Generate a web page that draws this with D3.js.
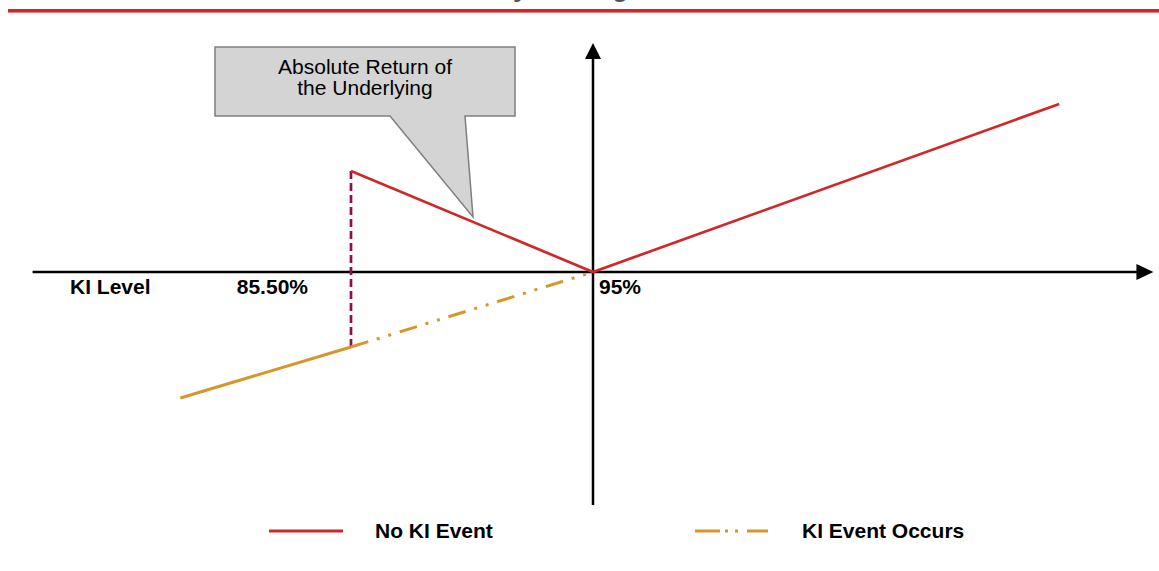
<!DOCTYPE html>
<html>
<head>
<meta charset="utf-8">
<script src="https://cdn.jsdelivr.net/npm/d3@7"></script>
<style>
  html, body { margin: 0; padding: 0; background: #fff; }
  svg { display: block; font-family: "Liberation Sans", Arial, sans-serif; }
</style>
</head>
<body>
<svg id="chart" width="1159" height="571"></svg>
<script>
// ---- Data (underlying level in %, payoff in schematic return units) ----
const titleText = "Payoff Diagram";
const xAxisExtent = [73, 117];          // underlying level range of the x axis
const yAxisExtent = [-23.3, 22.9];      // payoff range of the y axis
const strikeLevel = 95;                 // label "95%"
const kiLevel = 85.5;                   // label "85.50%"
const noKiLevels = [85.5, 95, 113.3];
const noKiValues = [10.1, 0, 16.8];
const kiSolidLevels = [78.8, 85.5];
const kiSolidValues = [-12.6, -7.5];
const kiDashLevels = [85.5, 95];
const kiDashValues = [-7.5, 0];
const tickLabels = ["KI Level", "85.50%", "95%"];
const calloutLines = ["Absolute Return of", "the Underlying"];
const legendLabels = ["No KI Event", "KI Event Occurs"];

// ---- Styles ----
const RED = "#d0282a", ORANGE = "#d6972a", PURPLE = "#8a1050";

const svg = d3.select("#chart");
const x = d3.scaleLinear().domain([95 - 9.5, 95]).range([351, 593]);
const y = d3.scaleLinear().domain([0, 10]).range([272, 172]);

// Title (cut off at the top, as in the reference) and red rule
svg.append("text").attr("x", 579).attr("y", -4).attr("text-anchor", "middle")
  .attr("font-size", 27).attr("font-weight", "bold").attr("fill", "#555")
  .text(titleText);
svg.append("rect").attr("x", 8).attr("y", 9).attr("width", 1151).attr("height", 3.6).attr("fill", RED);

// Axes
const x0 = x(xAxisExtent[0]), x1 = x(xAxisExtent[1]);
const yTop = y(yAxisExtent[1]), yBot = y(yAxisExtent[0]);
const ox = x(strikeLevel), oy = y(0);
svg.append("line").attr("x1", x0).attr("x2", x1 - 12).attr("y1", oy).attr("y2", oy)
  .attr("stroke", "#000").attr("stroke-width", 2.5);
svg.append("path").attr("d", `M${x1},${oy} L${x1 - 17},${oy - 8} L${x1 - 17},${oy + 8} Z`).attr("fill", "#000");
svg.append("line").attr("x1", ox).attr("x2", ox).attr("y1", yTop + 12).attr("y2", yBot)
  .attr("stroke", "#000").attr("stroke-width", 2.5);
svg.append("path").attr("d", `M${ox},${yTop} L${ox - 8},${yTop + 16} L${ox + 8},${yTop + 16} Z`).attr("fill", "#000");

// KI vertical dashed line
svg.append("line").attr("x1", x(kiLevel)).attr("x2", x(kiLevel))
  .attr("y1", y(noKiValues[0])).attr("y2", y(kiSolidValues[1]))
  .attr("stroke", PURPLE).attr("stroke-width", 2.7).attr("stroke-dasharray", "8,4");

const line = d3.line().x(d => x(d[0])).y(d => y(d[1]));
const zip = (a, b) => a.map((v, i) => [v, b[i]]);

svg.append("path").attr("d", line(zip(kiSolidLevels, kiSolidValues)))
  .attr("fill", "none").attr("stroke", ORANGE).attr("stroke-width", 3);
svg.append("path").attr("d", line(zip(kiDashLevels, kiDashValues)))
  .attr("fill", "none").attr("stroke", ORANGE).attr("stroke-width", 3)
  .attr("stroke-dasharray", "18,9,3,9,3,9");
svg.append("path").attr("d", line(zip(noKiLevels, noKiValues)))
  .attr("fill", "none").attr("stroke", RED).attr("stroke-width", 2.7)
  .attr("stroke-linejoin", "miter");

// Axis labels
const lab = svg.append("g").attr("font-size", 21).attr("font-weight", "bold").attr("fill", "#000");
lab.append("text").attr("x", 70).attr("y", 294).text(tickLabels[0]);
lab.append("text").attr("x", x(kiLevel) - 43).attr("y", 294).attr("text-anchor", "end").text(tickLabels[1]);
lab.append("text").attr("x", ox + 6).attr("y", 294).text(tickLabels[2]);

// Callout
svg.append("path")
  .attr("d", "M215,47 L515,47 L515,116 L465,116 L473,217 L390,116 L215,116 Z")
  .attr("fill", "#d4d4d4").attr("stroke", "#7f7f7f").attr("stroke-width", 1.5);
svg.append("g").attr("font-size", 21).attr("fill", "#000").attr("text-anchor", "middle")
  .selectAll("text").data(calloutLines).join("text")
  .attr("x", 365).attr("y", (d, i) => 74 + i * 21).text(d => d);

// Legend
const leg = svg.append("g");
leg.append("line").attr("x1", 269).attr("x2", 343).attr("y1", 531).attr("y2", 531)
  .attr("stroke", RED).attr("stroke-width", 3);
leg.append("text").attr("x", 375).attr("y", 538).attr("font-size", 21).attr("font-weight", "bold").text(legendLabels[0]);
leg.append("line").attr("x1", 695).attr("x2", 768).attr("y1", 531).attr("y2", 531)
  .attr("stroke", ORANGE).attr("stroke-width", 3).attr("stroke-dasharray", "25,5,3,7,3,9,30");
leg.append("text").attr("x", 802).attr("y", 538).attr("font-size", 21).attr("font-weight", "bold").text(legendLabels[1]);
</script>
</body>
</html>
